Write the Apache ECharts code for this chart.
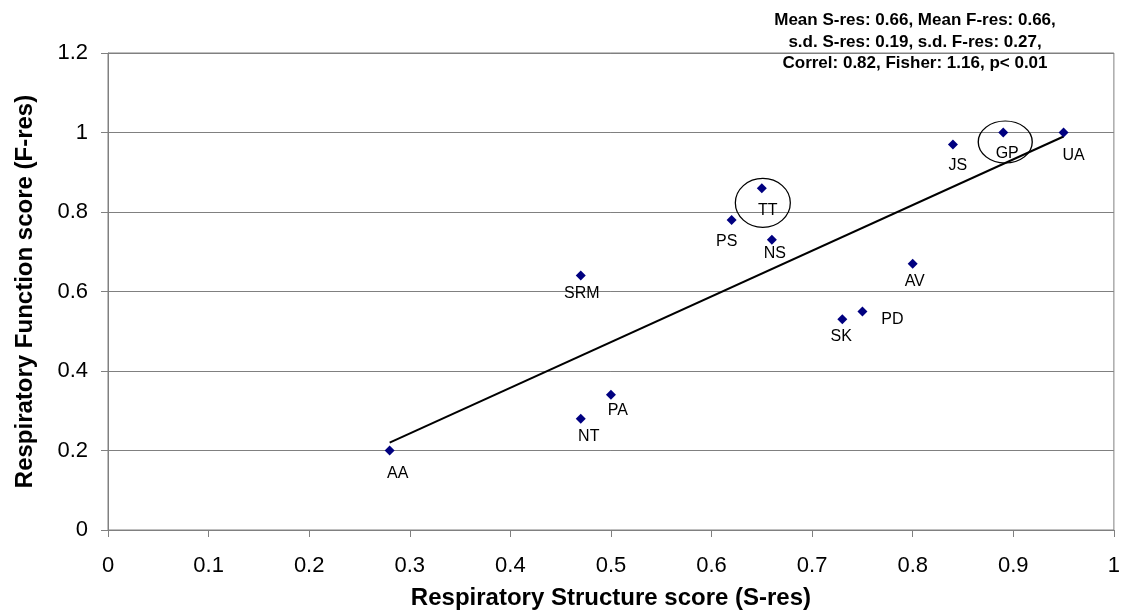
<!DOCTYPE html>
<html>
<head>
<meta charset="utf-8">
<title>Respiratory Structure vs Function</title>
<script src="https://cdn.jsdelivr.net/npm/echarts@6/dist/echarts.min.js"></script>
<style>
    html, body { margin: 0; padding: 0; background: #fff; }
    #chart { width: 1123px; height: 615px; }
</style>
</head>
<body>
<div id="chart"></div>
<script>
// 数据：每个点的名字、S-res、F-res
var names = ['AA', 'NT', 'PA', 'SRM', 'PS', 'TT', 'NS', 'SK', 'PD', 'AV', 'JS', 'GP', 'UA'];
var sRes  = [0.28, 0.47, 0.50, 0.47, 0.62, 0.65, 0.66, 0.73, 0.75, 0.80, 0.84, 0.89, 0.95];
var fRes  = [0.20, 0.28, 0.34, 0.64, 0.78, 0.86, 0.73, 0.53, 0.55, 0.67, 0.97, 1.00, 1.00];

// 趋势线两端
var trendX = [0.28, 0.95];
var trendY = [0.22, 0.99];

// 圈出来的两个点 (TT, GP) 的椭圆中心
var ringX = [0.651, 0.892];
var ringY = [0.823, 0.976];

var statLines = [
    'Mean S-res: 0.66, Mean F-res: 0.66,',
    's.d. S-res: 0.19, s.d. F-res: 0.27,',
    'Correl: 0.82, Fisher: 1.16, p< 0.01'
];

(function() {
    var FONT = '"Liberation Sans", Arial, sans-serif';

    // label 相对点的偏移 (px)
    var labelOffsets = {
        AA: [8, 23], NT: [8, 18], PA: [7, 16], SRM: [1, 18], PS: [-5, 22],
        TT: [6, 22], NS: [3, 14], SK: [-1, 17], PD: [30, 8], AV: [2, 18],
        JS: [5, 21], GP: [4, 21], UA: [10, 23]
    };
    var ringSizes = [[55, 49], [54, 42]];

    var pointData = names.map(function(n, i) {
        return {
            name: n,
            value: [sRes[i], fRes[i]],
            label: { offset: labelOffsets[n] }
        };
    });
    var trendData = trendX.map(function(x, i) { return [x, trendY[i]]; });
    var ringData = ringX.map(function(x, i) {
        return { value: [x, ringY[i]], symbolSize: ringSizes[i] };
    });

    var myChart = echarts.init(document.getElementById('chart'));
    var option = {
        animation: false,
        textStyle: { fontFamily: FONT },
        grid: {
            left: 108,
            right: 7,
            top: 53,
            bottom: 84,
            show: true,
            borderColor: '#808080',
            borderWidth: 1
        },
        xAxis: {
            type: 'value',
            min: 0,
            max: 1,
            interval: 0.1,
            name: 'Respiratory Structure score (S-res)',
            nameLocation: 'middle',
            nameGap: 56,
            nameTextStyle: { fontFamily: FONT, fontSize: 24, fontWeight: 'bold', color: '#000' },
            axisLine: { lineStyle: { color: '#808080', width: 1 } },
            axisTick: { show: true, length: 7, lineStyle: { color: '#808080' } },
            axisLabel: { fontFamily: FONT, fontSize: 22, color: '#000', margin: 25 },
            splitLine: { show: false }
        },
        yAxis: {
            type: 'value',
            min: 0,
            max: 1.2,
            interval: 0.2,
            name: 'Respiratory Function score (F-res)',
            nameLocation: 'middle',
            nameGap: 71,
            nameTextStyle: { fontFamily: FONT, fontSize: 24, fontWeight: 'bold', color: '#000' },
            axisLine: { show: true, lineStyle: { color: '#808080', width: 1 } },
            axisTick: { show: true, length: 7, lineStyle: { color: '#808080' } },
            axisLabel: { fontFamily: FONT, fontSize: 22, color: '#000', margin: 20 },
            splitLine: { show: true, lineStyle: { color: '#808080', width: 1 } }
        },
        graphic: [
            {
                type: 'text',
                x: 915,
                y: 10,
                z: 100,
                style: {
                    text: statLines.join('\n'),
                    align: 'center',
                    verticalAlign: 'top',
                    font: 'bold 17px ' + FONT,
                    lineHeight: 21.5,
                    fill: '#000'
                }
            }
        ],
        series: [
            {
                name: 'trend',
                type: 'line',
                data: trendData,
                symbol: 'none',
                silent: true,
                lineStyle: { color: '#000', width: 2 },
                z: 3
            },
            {
                name: 'ring',
                type: 'scatter',
                data: ringData,
                symbol: 'circle',
                silent: true,
                itemStyle: { color: 'rgba(0,0,0,0)', borderColor: '#000', borderWidth: 1.2, opacity: 1 },
                z: 4
            },
            {
                name: 'score',
                type: 'scatter',
                data: pointData,
                symbol: 'diamond',
                symbolSize: 10,
                itemStyle: { color: '#000080', opacity: 1 },
                label: {
                    show: true,
                    position: 'inside',
                    formatter: '{b}',
                    fontFamily: FONT,
                    fontSize: 16,
                    color: '#000',
                    textBorderWidth: 0
                },
                z: 5
            }
        ]
    };

    myChart.setOption(option);
})();
</script>
</body>
</html>
